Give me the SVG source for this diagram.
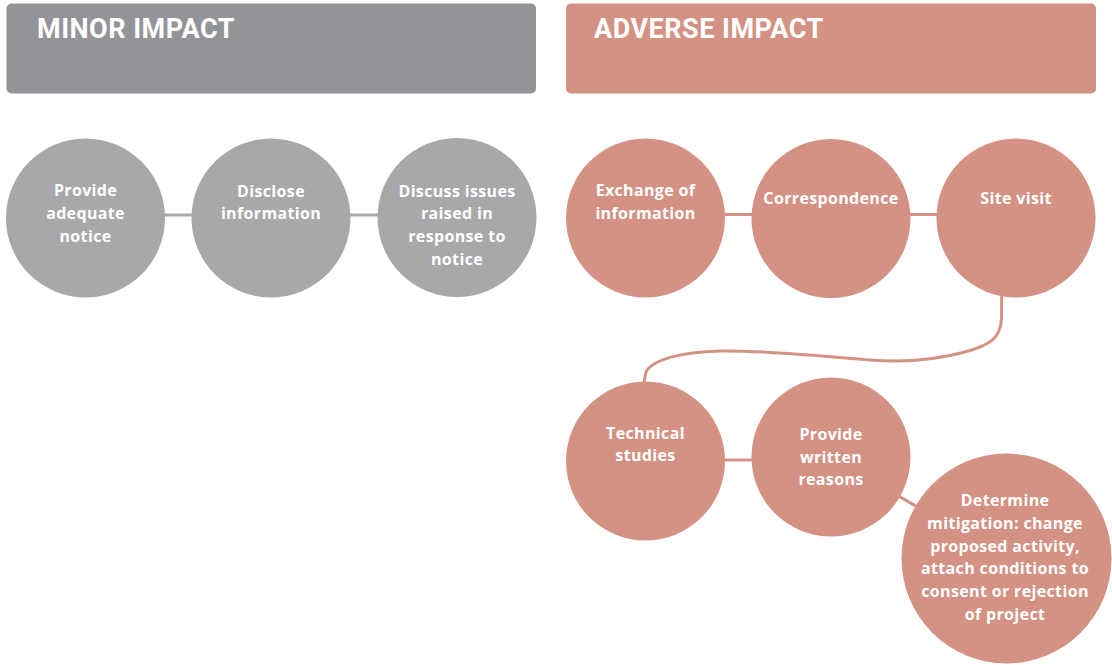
<svg xmlns="http://www.w3.org/2000/svg" width="1112" height="665" viewBox="0 0 1112 665">
<style>
.hdr-g{fill:#939498}
.hdr-r{fill:#d39283}
.title{font-family:Roboto,"Open Sans",sans-serif;font-weight:bold;font-size:27px;letter-spacing:0.5px;fill:#ffffff}
.cg{fill:#a7a8aa}
.cr{fill:#d39283}
.lbl{font-family:"Open Sans","Liberation Sans",sans-serif;font-weight:bold;font-size:16px;letter-spacing:0.35px;fill:#ffffff;text-anchor:middle}
.lg{stroke:#a7a8aa;stroke-width:3;fill:none}
.lr{stroke:#d39283;stroke-width:3;fill:none}
</style>
<rect width="1112" height="665" fill="#ffffff"/>
<g id="header-minor">
<rect class="hdr-g" x="6.5" y="3.5" width="529.5" height="90" rx="5"/>
<text class="title" x="37" y="38">MINOR IMPACT</text>
</g>
<g id="header-adverse">
<rect class="hdr-r" x="566" y="3.5" width="530" height="90" rx="5"/>
<text class="title" x="594" y="38">ADVERSE IMPACT</text>
</g>
<g id="connectors">
<line class="lg" x1="85.5" y1="215" x2="271" y2="215"/>
<line class="lg" x1="271" y1="215" x2="457" y2="215"/>
<line class="lr" x1="645.5" y1="214.5" x2="831" y2="214.5"/>
<line class="lr" x1="831" y1="214.5" x2="1016" y2="214.5"/>
<path class="lr" d="M1001.7 290 L1001.5 318 C1001 338 990 345 965 352 C935 360 905 363 870 360 C820 356 760 350 720 351 C680 352 652 360 646 372 L643.5 385"/>
<line class="lr" x1="645.5" y1="460" x2="831" y2="460"/>
<line class="lr" x1="831" y1="457" x2="1006.5" y2="558.5"/>
</g>
<g id="node-provide-notice">
<circle class="cg" cx="85.5" cy="218" r="79.5"/>
<text class="lbl" x="85.5" y="196">Provide</text>
<text class="lbl" x="85.5" y="219">adequate</text>
<text class="lbl" x="85.5" y="242">notice</text>
</g>
<g id="node-disclose">
<circle class="cg" cx="271" cy="218" r="79.5"/>
<text class="lbl" x="271" y="197">Disclose</text>
<text class="lbl" x="271" y="219">information</text>
</g>
<g id="node-discuss">
<circle class="cg" cx="457" cy="217.5" r="79.5"/>
<text class="lbl" x="457" y="197">Discuss issues</text>
<text class="lbl" x="457" y="219">raised in</text>
<text class="lbl" x="457" y="242">response to</text>
<text class="lbl" x="457" y="265">notice</text>
</g>
<g id="node-exchange">
<circle class="cr" cx="645.5" cy="218" r="79.5"/>
<text class="lbl" x="645.5" y="196">Exchange of</text>
<text class="lbl" x="645.5" y="219">information</text>
</g>
<g id="node-correspondence">
<circle class="cr" cx="831" cy="218.5" r="79.5"/>
<text class="lbl" x="831" y="204">Correspondence</text>
</g>
<g id="node-site-visit">
<circle class="cr" cx="1016" cy="218" r="79.5"/>
<text class="lbl" x="1016" y="204">Site visit</text>
</g>
<g id="node-technical">
<circle class="cr" cx="645.5" cy="461" r="79.5"/>
<text class="lbl" x="645.5" y="439">Technical</text>
<text class="lbl" x="645.5" y="461">studies</text>
</g>
<g id="node-written-reasons">
<circle class="cr" cx="831" cy="457" r="79.5"/>
<text class="lbl" x="831" y="440">Provide</text>
<text class="lbl" x="831" y="463">written</text>
<text class="lbl" x="831" y="485">reasons</text>
</g>
<g id="node-mitigation">
<circle class="cr" cx="1006.5" cy="558.5" r="105"/>
<text class="lbl" x="1005" y="506">Determine</text>
<text class="lbl" x="1005" y="529">mitigation: change</text>
<text class="lbl" x="1005" y="552">proposed activity,</text>
<text class="lbl" x="1005" y="574">attach conditions to</text>
<text class="lbl" x="1005" y="597">consent or rejection</text>
<text class="lbl" x="1005" y="620">of project</text>
</g>
</svg>
